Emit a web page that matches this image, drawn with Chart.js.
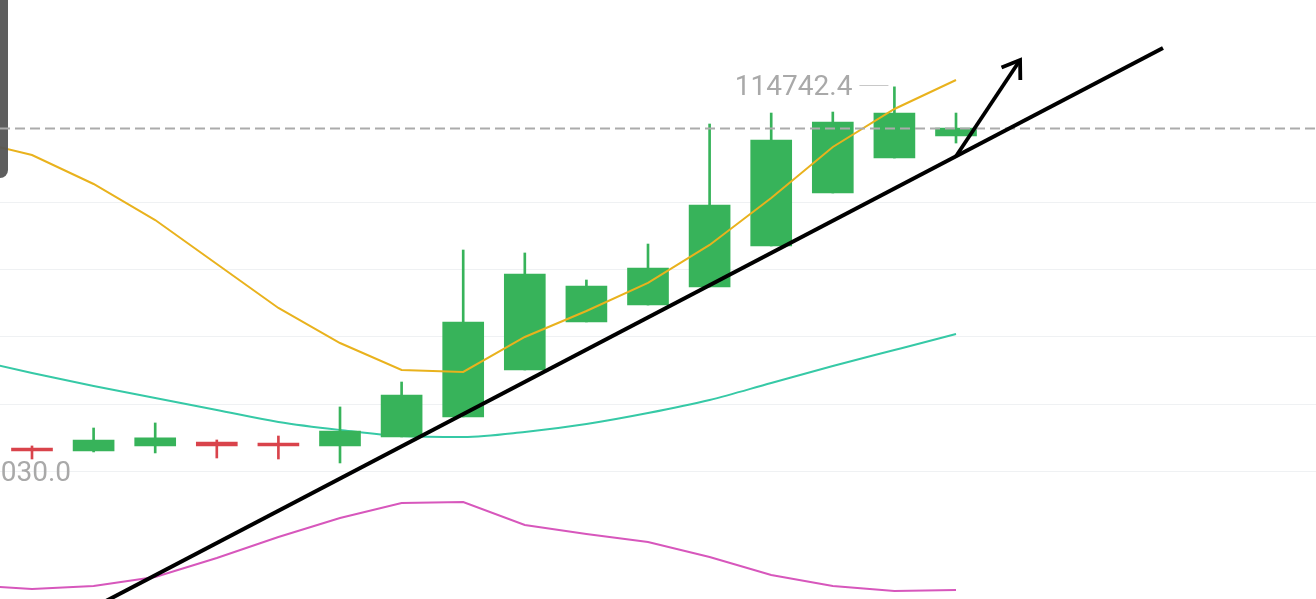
<!DOCTYPE html>
<html>
<head>
<meta charset="utf-8">
<script src="https://cdn.jsdelivr.net/npm/chart.js@4.4.1/dist/chart.umd.min.js"></script>
<style>
  html, body { margin: 0; padding: 0; background: #ffffff; overflow: hidden; }
  #wrap { width: 1316px; height: 599px; position: relative; }
</style>
</head>
<body>
<div id="wrap"><canvas id="c"></canvas></div>
<script>
// Daily candles (index 0 = oldest)
const opens  = [109357, 109327, 109402, 109461, 109431, 109402, 109536, 109833, 110532, 111246, 111498, 111766, 112376, 113164, 113684, 114011];
const highs  = [109402, 109669, 109744, 109491, 109550, 109982, 110353, 112316, 112272, 111870, 112405, 114190, 114353, 114368, 114742.4, 114353];
const lows   = [109208, 109313, 109298, 109223, 109208, 109149, 109536, 109833, 110532, 111246, 111498, 111766, 112376, 113164, 113684, 113907];
const closes = [109327, 109491, 109521, 109402, 109402, 109625, 110160, 111246, 111959, 111781, 112049, 112985, 113952, 114220, 114353, 114130];

// Moving averages, first value belongs to the candle before index 0
const maStart = -1;
const maFast   = [113952, 113729, 113298, 112762, 112108, 111454, 110933, 110532, 110502, 111023, 111409, 111826, 112391, 113090, 113848, 114413, 114844];
const maMid    = [110695, 110487, 110294, 110116, 109937, 109759, 109640, 109550, 109536, 109610, 109729, 109892, 110086, 110339, 110591, 110829, 111067];
const maSlow   = [107335, 107275, 107320, 107454, 107736, 108049, 108331, 108554, 108569, 108227, 108093, 107974, 107751, 107484, 107320, 107246, 107260];

// Horizontal price levels with grid lines; the lowest one is labelled
const gridPrices = [109030, 110030, 111030, 112030, 113030];
const labelledPrice = 109030;

// Hand-drawn support trendline and breakout arrow (index, price)
const trendFrom = { x: 1, y: 107000 };
const trendTo   = { x: 18.36, y: 115320 };
const arrowFrom = { x: 15, y: 113710 };
const arrowTo   = { x: 16.04, y: 115142 };

const UP = '#37b35a';
const DOWN = '#d9434b';
const idx = opens.map((_, i) => i);
const candleColors = idx.map(i => closes[i] >= opens[i] ? UP : DOWN);

const FONT_PX = 28;
const CAP = 0.711 * FONT_PX;

const overlay = {
  id: 'overlay',
  beforeDatasetsDraw(chart) {
    const { ctx, chartArea: a, scales: { y } } = chart;
    ctx.save();
    ctx.strokeStyle = '#eff1f3';
    ctx.lineWidth = 1;
    gridPrices.forEach(v => {
      const py = Math.round(y.getPixelForValue(v)) + 0.5;
      ctx.beginPath(); ctx.moveTo(a.left, py); ctx.lineTo(a.right, py); ctx.stroke();
    });
    ctx.restore();
  },
  afterDatasetsDraw(chart) {
    const { ctx, chartArea: a, scales: { x, y } } = chart;
    ctx.save();

    // side panel edge
    ctx.fillStyle = 'rgba(85,85,85,0.95)';
    ctx.beginPath();
    ctx.roundRect(-12, -12, 20, 190, 8);
    ctx.fill();

    // last price dashed line
    const last = closes[closes.length - 1];
    const lp = Math.round(y.getPixelForValue(last)) + 0.5;
    ctx.strokeStyle = '#ababab';
    ctx.lineWidth = 2;
    ctx.setLineDash([10, 5]);
    ctx.beginPath(); ctx.moveTo(a.left, lp); ctx.lineTo(a.right, lp); ctx.stroke();
    ctx.setLineDash([]);

    // axis price label at the left edge
    ctx.fillStyle = '#a9a9a9';
    ctx.font = FONT_PX + 'px Roboto';
    ctx.textAlign = 'right';
    ctx.textBaseline = 'alphabetic';
    ctx.fillText(labelledPrice.toFixed(1), 71, y.getPixelForValue(labelledPrice) + CAP / 2);

    // highest high marker
    let hi = 0;
    highs.forEach((v, i) => { if (v > highs[hi]) hi = i; });
    const hx = x.getPixelForValue(hi);
    const hy = Math.round(y.getPixelForValue(highs[hi])) + 0.5;
    ctx.strokeStyle = '#c8c8c8';
    ctx.lineWidth = 1;
    ctx.beginPath(); ctx.moveTo(hx - 35, hy - 2); ctx.lineTo(hx - 6, hy - 2); ctx.stroke();
    ctx.fillText(highs[hi].toFixed(1), hx - 42, hy - 2 + CAP / 2);

    // trendline
    ctx.strokeStyle = '#000000';
    ctx.lineCap = 'butt';
    ctx.lineWidth = 4;
    ctx.beginPath();
    ctx.moveTo(x.getPixelForValue(trendFrom.x), y.getPixelForValue(trendFrom.y));
    ctx.lineTo(x.getPixelForValue(trendTo.x), y.getPixelForValue(trendTo.y));
    ctx.stroke();

    // arrow
    const ax0 = x.getPixelForValue(arrowFrom.x), ay0 = y.getPixelForValue(arrowFrom.y);
    const ax1 = x.getPixelForValue(arrowTo.x), ay1 = y.getPixelForValue(arrowTo.y);
    ctx.lineWidth = 3.8;
    ctx.lineJoin = 'miter';
    ctx.beginPath(); ctx.moveTo(ax0, ay0); ctx.lineTo(ax1, ay1); ctx.stroke();
    const ang = Math.atan2(ay1 - ay0, ax1 - ax0);
    const head = 20, spread = 0.6;
    ctx.beginPath();
    ctx.moveTo(ax1 - head * Math.cos(ang - spread), ay1 - head * Math.sin(ang - spread));
    ctx.lineTo(ax1, ay1);
    ctx.lineTo(ax1 - head * Math.cos(ang + spread), ay1 - head * Math.sin(ang + spread));
    ctx.stroke();

    ctx.restore();
  }
};

const maPoints = arr => arr.map((v, k) => ({ x: k + maStart, y: v }));

new Chart(document.getElementById('c'), {
  type: 'bar',
  data: {
    datasets: [
      {
        type: 'line', data: maPoints(maSlow), borderColor: '#d757bc', borderWidth: 2,
        pointRadius: 0, tension: 0, order: 5
      },
      {
        type: 'line', data: maPoints(maMid), borderColor: '#36c9a6', borderWidth: 2,
        pointRadius: 0, cubicInterpolationMode: 'monotone', order: 4
      },
      {
        label: 'wick', data: idx.map(i => ({ x: i, y: [lows[i], highs[i]] })),
        backgroundColor: candleColors, barThickness: 2, grouped: false, order: 3
      },
      {
        label: 'body', data: idx.map(i => ({ x: i, y: [opens[i], closes[i]] })),
        backgroundColor: candleColors, barThickness: 41, minBarLength: 3, grouped: false, order: 2
      },
      {
        type: 'line', data: maPoints(maFast), borderColor: '#e9b21d', borderWidth: 2,
        pointRadius: 0, tension: 0, order: 1
      }
    ]
  },
  options: {
    responsive: true,
    maintainAspectRatio: false,
    animation: false,
    layout: { padding: 0 },
    plugins: { legend: { display: false }, tooltip: { enabled: false } },
    scales: {
      x: { type: 'linear', min: -0.5195, max: 20.844, offset: false, display: false },
      y: { type: 'linear', min: 107126, max: 116034, display: false }
    }
  },
  plugins: [overlay]
});
</script>
</body>
</html>
